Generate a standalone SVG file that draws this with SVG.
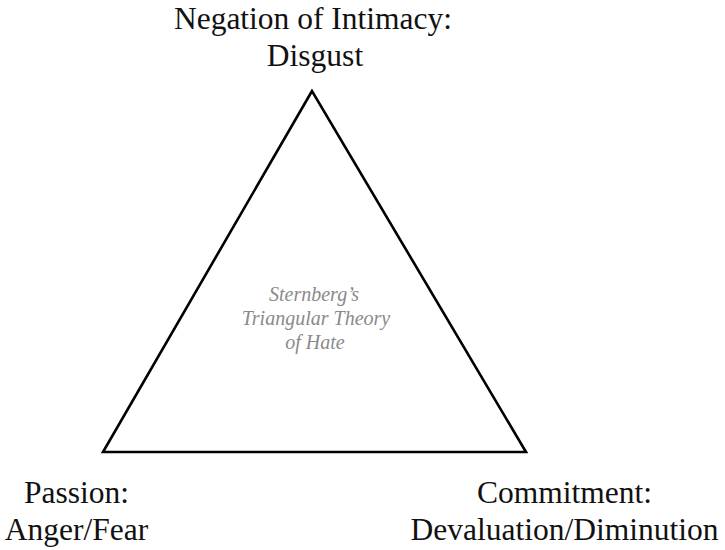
<svg xmlns="http://www.w3.org/2000/svg" width="725" height="550" viewBox="0 0 725 550">
  <style>
    .lbl { font-size: 31.5px; fill: #111; text-anchor: middle; }
    .cap { font-size: 20px; font-style: italic; fill: #8a8a8a; text-anchor: middle; }
    .edge { fill: none; stroke: #000; stroke-width: 2.6; stroke-linejoin: miter; }
  </style>
  <rect width="725" height="550" fill="#fff"/>
  <g id="connectors">
    <polygon class="edge" points="312,91 103,452 526,452"/>
  </g>
  <g id="intimacy" font-family="Liberation Serif, serif">
    <text class="lbl" x="313" y="29">Negation of Intimacy:</text>
    <text class="lbl" x="315" y="66">Disgust</text>
  </g>
  <g id="passion" font-family="Liberation Serif, serif">
    <text class="lbl" x="76.5" y="503">Passion:</text>
    <text class="lbl" x="76.5" y="540">Anger/Fear</text>
  </g>
  <g id="commitment" font-family="Liberation Serif, serif">
    <text class="lbl" x="564.5" y="503">Commitment:</text>
    <text class="lbl" x="564.5" y="540">Devaluation/Diminution</text>
  </g>
  <g id="title" font-family="Liberation Serif, serif">
    <text class="cap" x="314" y="301">Sternberg’s</text>
    <text class="cap" x="316" y="325">Triangular Theory</text>
    <text class="cap" x="315" y="349">of Hate</text>
  </g>
</svg>
